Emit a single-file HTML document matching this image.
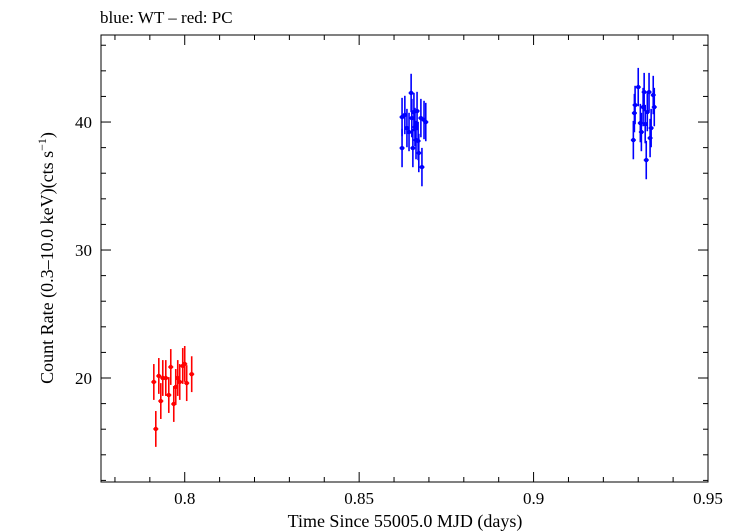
<!DOCTYPE html>
<html><head><meta charset="utf-8"><style>
body{margin:0;background:#fff;}
svg{display:block;font-family:"Liberation Serif",serif;}
</style></head><body>
<svg id="chart" width="738" height="532" viewBox="0 0 738 532">
<text x="100" y="23" font-size="17">blue: WT – red: PC</text>
<rect x="101" y="35" width="607" height="447" fill="none" stroke="#000" stroke-width="1"/>
<g id="ticks"></g>
<g id="marks"></g>
<text x="405" y="527" font-size="18" text-anchor="middle">Time Since 55005.0 MJD (days)</text>
<text transform="translate(53,258) rotate(-90)" font-size="18" text-anchor="middle">Count Rate (0.3–10.0 keV)(cts s<tspan baseline-shift="super" font-size="12">−1</tspan>)</text>
</svg>
<script>
const xTicks=[0.8,0.85,0.9,0.95];
const xTickLabels=["0.8","0.85","0.9","0.95"];
const yTicks=[20,30,40];
const yTickLabels=["20","30","40"];
const redTime=[0.79114,0.79171,0.79257,0.79314,0.79371,0.79457,0.79543,0.796,0.79686,0.79743,0.798,0.79857,0.79943,0.8,0.80057,0.802];
const redRate=[19.69,16.02,20.16,18.2,20,20,18.67,20.86,17.97,19.3,20,19.69,20.94,21.1,19.6,20.3];
const redErr=[1.4,1.4,1.4,1.4,1.4,1.4,1.4,1.4,1.4,1.4,1.4,1.4,1.4,1.4,1.4,1.4];
const blueTime=[0.8623,0.8623,0.8631,0.8637,0.8643,0.8649,0.8651,0.8654,0.8657,0.866,0.8663,0.8666,0.8669,0.8671,0.8677,0.868,0.8686,0.8691,
0.9286,0.9289,0.9291,0.93,0.9306,0.9309,0.9314,0.9317,0.932,0.9323,0.9326,0.9331,0.9334,0.9337,0.9343,0.9346];
const blueRate=[40.39,37.97,40.55,39.53,39.22,42.27,40.31,37.97,40.78,39.61,38.59,40.86,38.52,37.58,40.31,36.48,40.16,40.0,
38.59,40.7,41.33,42.73,39.92,39.22,41.17,42.34,39.84,37.03,40.78,42.34,38.75,39.53,42.11,41.17];
const blueErr=1.5;
const X0=0.776,X1=0.95,Y0=11.875,Y1=46.8;
const L=101,R=708,T=35,B=482;
const sx=v=>L+(v-X0)/(X1-X0)*(R-L);
const sy=v=>B-(v-Y0)/(Y1-Y0)*(B-T);
const NS="http://www.w3.org/2000/svg";
function mk(tag,attrs,parent){const e=document.createElementNS(NS,tag);for(const k in attrs)e.setAttribute(k,attrs[k]);parent.appendChild(e);return e;}
const tg=document.getElementById('ticks');
for(let v=0.78;v<=0.9505;v+=0.01){const x=sx(v);const major=xTicks.some(t=>Math.abs(t-v)<1e-6);const len=major?10:5;
const a=mk('line',{x1:x,x2:x,y1:B,y2:B-len,stroke:'#000'},tg);
const b=mk('line',{x1:x,x2:x,y1:T,y2:T+len,stroke:'#000'},tg);}
xTicks.forEach((v,i)=>{const t=mk('text',{x:sx(v),y:504,'font-size':17,'text-anchor':'middle'},tg);t.textContent=xTickLabels[i];
});
for(let v=12;v<=46;v+=2){const y=sy(v);const major=yTicks.includes(v);const len=major?10:5;
const a=mk('line',{x1:L,x2:L+len,y1:y,y2:y,stroke:'#000'},tg);
const b=mk('line',{x1:R,x2:R-len,y1:y,y2:y,stroke:'#000'},tg);}
yTicks.forEach((v,i)=>{const t=mk('text',{x:92,y:sy(v)+6,'font-size':17,'text-anchor':'end'},tg);t.textContent=yTickLabels[i];
});
const mg=document.getElementById('marks');
function pt(t,r,e,col,name){const g=mk('g',{},mg);
const x=sx(t),y=sy(r);
mk('line',{x1:x,x2:x,y1:sy(r+e),y2:sy(r-e),stroke:col,'stroke-width':1.6},g);
mk('line',{x1:x-2.5,x2:x+2.5,y1:y,y2:y,stroke:col,'stroke-width':1.6},g);
mk('circle',{cx:x,cy:y,r:2.2,fill:col},g);}
redTime.forEach((t,i)=>pt(t,redRate[i],redErr[i],'#f00','pc-point'));
blueTime.forEach((t,i)=>pt(t,blueRate[i],blueErr,'#00f','wt-point'));
</script>
</body></html>
